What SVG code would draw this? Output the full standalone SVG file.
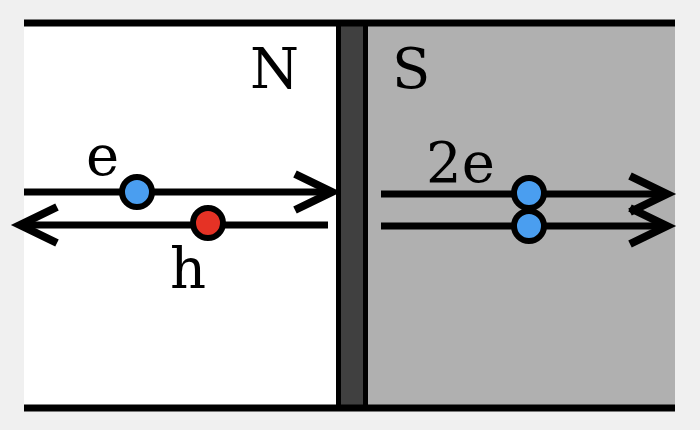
<svg xmlns="http://www.w3.org/2000/svg" width="700" height="430" viewBox="0 0 700 430">
<style>
.t{font-family:"DejaVu Serif","Liberation Serif",serif;font-size:56px;fill:#000}
.ln{stroke:#000;stroke-width:7;fill:none}
.hd{stroke:#000;stroke-width:8;fill:none;stroke-linecap:butt}
.p{stroke:#000;stroke-width:6}
</style>
<rect width="700" height="430" fill="#f0f0f0"/>
<g id="N"><rect x="24" y="23" width="313" height="385" fill="#fff"/><text class="t" x="250" y="88">N</text></g>
<g id="S"><rect x="367" y="23" width="308" height="385" fill="#b0b0b0"/><text class="t" x="392" y="88">S</text></g>
<g id="barrier"><rect x="338.5" y="23" width="27" height="385" fill="#404040" stroke="#000" stroke-width="5"/></g>
<g id="borders"><line class="ln" x1="24" y1="23" x2="675" y2="23"/><line class="ln" x1="24" y1="408" x2="675" y2="408"/></g>
<g id="connectors">
<line class="ln" x1="24" y1="192" x2="330" y2="192"/><polyline class="hd" points="295,174 332,192 295,210"/>
<line class="ln" x1="328" y1="225" x2="24" y2="225"/><polyline class="hd" points="57,207 20,225 57,243"/>
<line class="ln" x1="381" y1="194" x2="666" y2="194"/><polyline class="hd" points="630,176 667,194 630,212"/>
<line class="ln" x1="381" y1="226" x2="666" y2="226"/><polyline class="hd" points="630,208 667,226 630,244"/>
</g>
<g id="electron"><circle class="p" cx="137" cy="192" r="15" fill="#4a9ef0"/><text class="t" x="86" y="175">e</text></g>
<g id="hole"><circle class="p" cx="208" cy="223" r="15" fill="#e53225"/><text class="t" x="170" y="288">h</text></g>
<g id="pair"><circle class="p" cx="529" cy="193" r="15" fill="#4a9ef0"/><circle class="p" cx="529" cy="226" r="15" fill="#4a9ef0"/><text class="t" x="426" y="182">2e</text></g>
</svg>
